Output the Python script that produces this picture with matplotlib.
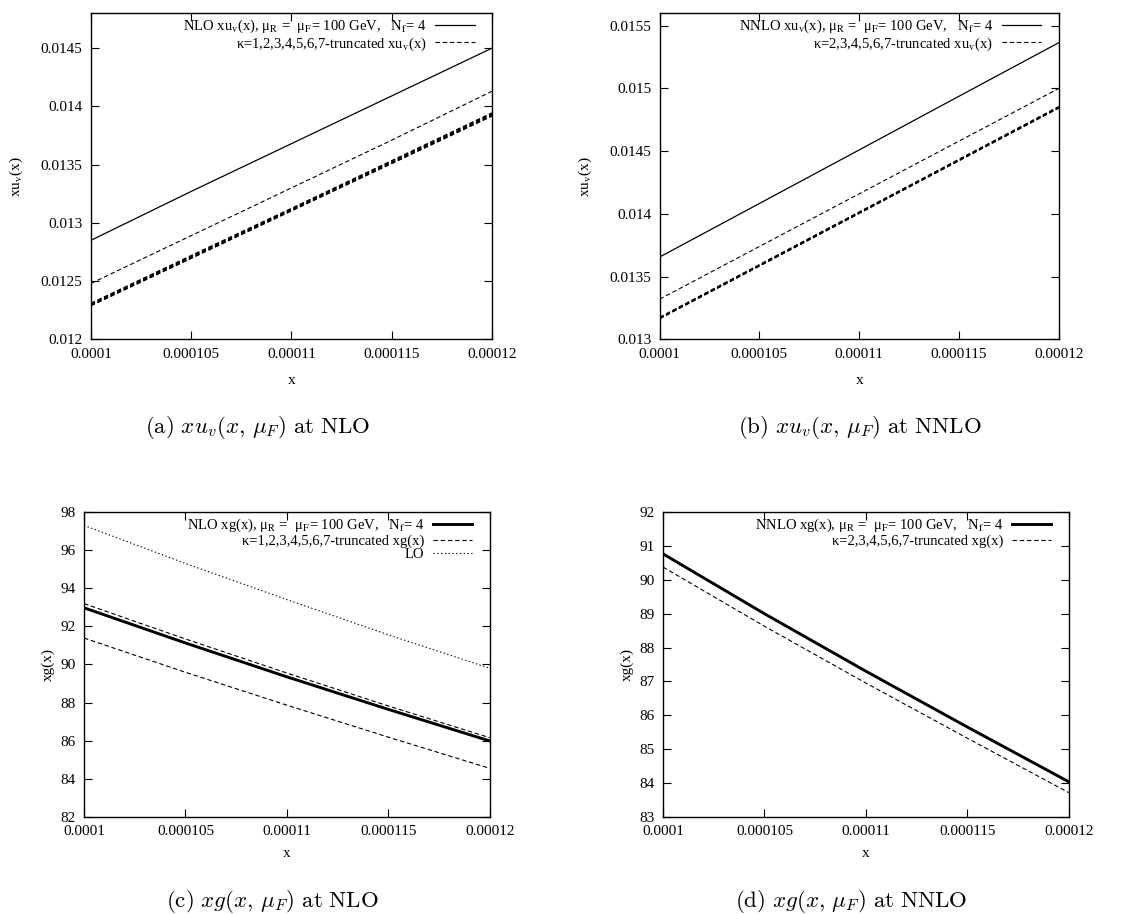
import matplotlib
matplotlib.use("Agg")
import matplotlib.pyplot as plt
from matplotlib.ticker import FixedLocator, FixedFormatter

# Data
x = [0.0001, 0.000105, 0.00011, 0.000115, 0.00012]
x_labels = ["0.0001", "0.000105", "0.00011", "0.000115", "0.00012"]

# (a) xu_v at NLO
uv_nlo = [0.01285, 0.01327, 0.01368, 0.01409, 0.01450]
uv_nlo_k1 = [0.01248, 0.01289, 0.01330, 0.01371, 0.01413]
uv_nlo_k = [
    [0.012310, 0.012720, 0.013125, 0.013535, 0.013945],
    [0.012305, 0.012714, 0.013120, 0.013530, 0.013938],
    [0.012300, 0.012708, 0.013115, 0.013524, 0.013932],
    [0.012295, 0.012702, 0.013110, 0.013518, 0.013926],
    [0.012290, 0.012697, 0.013105, 0.013512, 0.013920],
    [0.012288, 0.012694, 0.013102, 0.013508, 0.013916],
]

# (b) xu_v at NNLO
uv_nnlo = [0.013656, 0.014083, 0.014510, 0.014938, 0.015365]
uv_nnlo_k2 = [0.013320, 0.013740, 0.014160, 0.014580, 0.015000]
uv_nnlo_k = [
    [0.013176, 0.013596, 0.014016, 0.014436, 0.014856],
    [0.013172, 0.013592, 0.014012, 0.014432, 0.014852],
    [0.013168, 0.013588, 0.014008, 0.014428, 0.014848],
    [0.013165, 0.013585, 0.014005, 0.014425, 0.014845],
    [0.013163, 0.013583, 0.014003, 0.014423, 0.014843],
]

# (c) xg at NLO
g_nlo = [92.98, 91.13, 89.35, 87.64, 85.98]
g_nlo_k = [93.20, 91.34, 89.55, 87.82, 86.15]
g_nlo_k1 = [91.39, 89.59, 87.86, 86.18, 84.54]
g_lo = [97.31, 95.31, 93.41, 91.56, 89.80]

# (d) xg at NNLO
g_nnlo = [90.77, 89.00, 87.30, 85.65, 84.03]
g_nnlo_k = [90.38, 88.63, 86.95, 85.32, 83.71]

serif = "Liberation Serif"
fs_tick = 11
fs_leg = 10.5
dash = (0, (4, 2.5))
dot = (0, (1.2, 2.2))

fig = plt.figure(figsize=(11.34, 9.14), dpi=100)
fig.patch.set_facecolor("white")

ax_a = fig.add_axes([0.0802, 0.6288, 0.3536, 0.3567])
ax_b = fig.add_axes([0.5817, 0.6288, 0.3519, 0.3567])
ax_c = fig.add_axes([0.0741, 0.1065, 0.3578, 0.3330])
ax_d = fig.add_axes([0.5847, 0.1065, 0.3578, 0.3330])


def style(ax, ylim, yticks, ylabel, ylab_x, xlab_y):
    ax.set_xlim(x[0], x[-1])
    ax.set_ylim(*ylim)
    ax.xaxis.set_major_locator(FixedLocator(x))
    ax.xaxis.set_major_formatter(FixedFormatter(x_labels))
    ax.yaxis.set_major_locator(FixedLocator(yticks))
    ax.yaxis.set_major_formatter(FixedFormatter(["%g" % v for v in yticks]))
    ax.tick_params(direction="in", length=6, width=0.8, top=True, right=True,
                   labelsize=fs_tick)
    ax.tick_params(axis="x", pad=6)
    ax.tick_params(axis="y", pad=6)
    for lab in ax.get_xticklabels() + ax.get_yticklabels():
        lab.set_fontfamily(serif)
    for s in ax.spines.values():
        s.set_linewidth(1.0)
    ax.set_xlabel("x", fontfamily=serif, fontsize=fs_tick, va="center")
    ax.xaxis.set_label_coords(0.5, xlab_y)
    ax.set_ylabel(ylabel, fontfamily=serif, fontsize=fs_tick,
                  math_fontfamily="stix", va="center")
    ax.yaxis.set_label_coords(ylab_x, 0.5)


def legend(ax):
    ax.legend(loc="upper right", bbox_to_anchor=(0.975, 1.008),
              frameon=False, markerfirst=False,
              prop={"family": serif, "size": fs_leg, "math_fontfamily": "stix"},
              handlelength=2.7, handletextpad=0.6, labelspacing=0.0,
              borderaxespad=0.2, borderpad=0.3)


# (a)
ax_a.plot(x, uv_nlo, color="black", lw=0.9,
          label=r"NLO xu$_\mathrm{v}$(x), μ$_\mathrm{R}$ =  μ$_\mathrm{F}$= 100 GeV,   N$_\mathrm{f}$= 4")
ax_a.plot(x, uv_nlo_k1, color="black", lw=0.8, linestyle=dash,
          label=r"κ=1,2,3,4,5,6,7-truncated xu$_\mathrm{v}$(x)")
for ys in uv_nlo_k:
    ax_a.plot(x, ys, color="black", lw=0.8, linestyle=dash)
style(ax_a, (0.012, 0.0148), [0.012, 0.0125, 0.013, 0.0135, 0.014, 0.0145],
      r"xu$_\mathrm{v}$(x)", -0.185, -0.126)
legend(ax_a)

# (b)
ax_b.plot(x, uv_nnlo, color="black", lw=0.9,
          label=r"NNLO xu$_\mathrm{v}$(x), μ$_\mathrm{R}$ =  μ$_\mathrm{F}$= 100 GeV,   N$_\mathrm{f}$= 4")
ax_b.plot(x, uv_nnlo_k2, color="black", lw=0.8, linestyle=dash,
          label=r"κ=2,3,4,5,6,7-truncated xu$_\mathrm{v}$(x)")
for ys in uv_nnlo_k:
    ax_b.plot(x, ys, color="black", lw=0.8, linestyle=dash)
style(ax_b, (0.013, 0.0156), [0.013, 0.0135, 0.014, 0.0145, 0.015, 0.0155],
      r"xu$_\mathrm{v}$(x)", -0.185, -0.126)
legend(ax_b)

# (c)
ax_c.plot(x, g_nlo, color="black", lw=2.1,
          label=r"NLO xg(x), μ$_\mathrm{R}$ =  μ$_\mathrm{F}$= 100 GeV,   N$_\mathrm{f}$= 4")
ax_c.plot(x, g_nlo_k, color="black", lw=0.8, linestyle=dash,
          label=r"κ=1,2,3,4,5,6,7-truncated xg(x)")
ax_c.plot(x, g_nlo_k1, color="black", lw=0.8, linestyle=dash)
ax_c.plot(x, g_lo, color="black", lw=0.8, linestyle=dot, label="LO")
style(ax_c, (82, 98), list(range(82, 99, 2)), "xg(x)", -0.089, -0.1225)
legend(ax_c)

# (d)
ax_d.plot(x, g_nnlo, color="black", lw=2.1,
          label=r"NNLO xg(x), μ$_\mathrm{R}$ =  μ$_\mathrm{F}$= 100 GeV,   N$_\mathrm{f}$= 4")
ax_d.plot(x, g_nnlo_k, color="black", lw=0.8, linestyle=dash,
          label=r"κ=2,3,4,5,6,7-truncated xg(x)")
style(ax_d, (83, 92), list(range(83, 93)), "xg(x)", -0.089, -0.1225)
legend(ax_d)

# Captions
cap = dict(fontsize=16.5, math_fontfamily="cm", ha="center", va="baseline")
fig.text(258 / 1134, 1 - 433 / 914, r"$\mathrm{(a)}\ xu_v(x,\,\mu_F)\ \mathrm{at\ NLO}$", **cap)
fig.text(860 / 1134, 1 - 433 / 914, r"$\mathrm{(b)}\ xu_v(x,\,\mu_F)\ \mathrm{at\ NNLO}$", **cap)
fig.text(272 / 1134, 1 - 907 / 914, r"$\mathrm{(c)}\ xg(x,\,\mu_F)\ \mathrm{at\ NLO}$", **cap)
fig.text(851 / 1134, 1 - 907 / 914, r"$\mathrm{(d)}\ xg(x,\,\mu_F)\ \mathrm{at\ NNLO}$", **cap)

fig.savefig("out.png", dpi=100)
